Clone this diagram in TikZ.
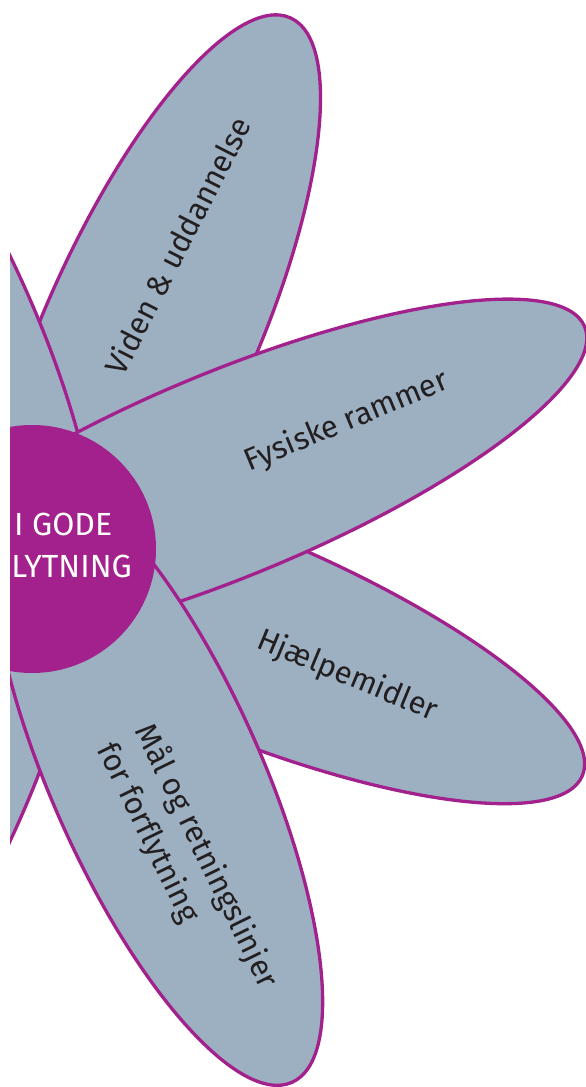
\documentclass[tikz,border=0pt]{standalone}
\usepackage{fontspec}
\setmainfont{Fira Sans}[Ligatures=NoCommon]
\usetikzlibrary{positioning}
\definecolor{petalblue}{HTML}{9DB0C2}
\definecolor{flowerpurple}{HTML}{A2218D}
\definecolor{inktext}{HTML}{231F20}
\tikzstyle{petal} = [fill=petalblue, draw=flowerpurple, line width=3.3pt]
\tikzstyle{petaltext} = [text=inktext, inner sep=0pt, font=\fontsize{31}{42}\selectfont]
\tikzstyle{hubtext} = [text=white, inner sep=0pt, font=\fontsize{32}{42}\selectfont]

\begin{document}
\begin{tikzpicture}[x=1pt,y=-1pt]
\useasboundingbox (0,0) rectangle (586,1087);
\clip (10,0) rectangle (586,1087);
% petals, back to front
\draw[petal, rotate around={66:(150,333)}] (150,333) ellipse (345pt and 106pt);
\draw[petal, rotate around={114:(-71,333)}] (-71,333) ellipse (345pt and 106pt);
\draw[petal, rotate around={-22.5:(236,632)}] (236,632) ellipse (375pt and 102pt);
\draw[petal, rotate around={22.5:(229,474)}] (229,474) ellipse (385pt and 102pt);
\draw[petal, rotate around={-114:(-77,779)}] (-77,779) ellipse (332pt and 105pt);
\draw[petal, rotate around={-66:(157,779)}] (157,779) ellipse (332pt and 105pt);
% hub
\fill[flowerpurple] (32,549) circle (124pt);
\node[hubtext, anchor=base west] (godeline) at (14,535) {I GODE};
\node[hubtext, anchor=base east] (lytline) at (132,577) {LYTNING};
% petal labels
\node[petaltext, rotate=63, anchor=base] (viden) at (188,251) {Viden \& uddannelse};
\node[petaltext, rotate=22.5, anchor=base] (fysiske) at (350,430) {Fysiske rammer};
\node[petaltext, rotate=-22.5, anchor=base] (hjaelp) at (344,684) {Hjælpemidler};
\node[petaltext, rotate=-64, anchor=north west, align=left] (maal) at (158,719)
  {Mål og retningslinjer\\for forflytning};
\end{tikzpicture}
\end{document}
